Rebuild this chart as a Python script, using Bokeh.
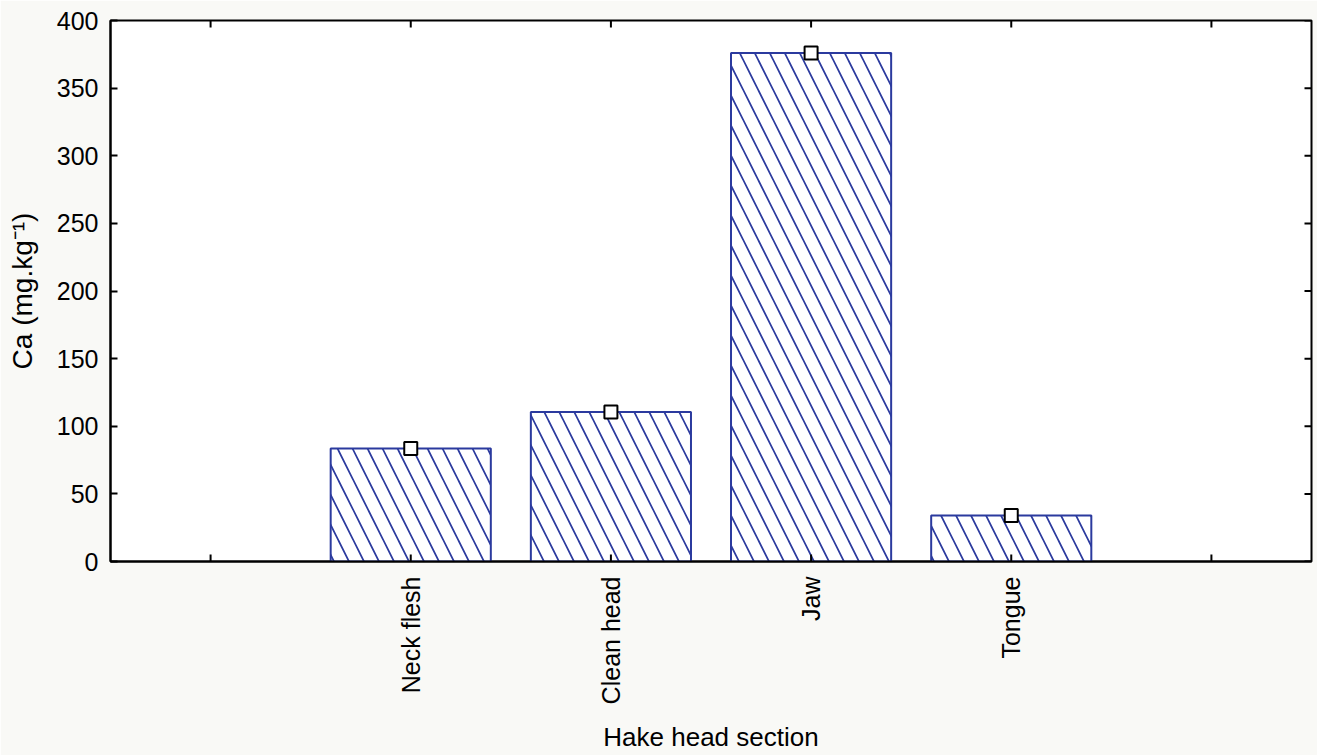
import math
from bokeh.plotting import figure
from bokeh.models import ColumnDataSource, FixedTicker, Range1d
from bokeh.embed import file_html
from bokeh.resources import INLINE

categories = ["Neck flesh", "Clean head", "Jaw", "Tongue"]
ca_means = [83.5, 110.5, 376.0, 34.0]
y_ticks = [0, 50, 100, 150, 200, 250, 300, 350, 400]

# category slots: one empty slot on each side
n_slots = len(categories) + 2
x_pos = [i + 1.5 for i in range(len(categories))]
x_ticks = [i + 0.5 for i in range(n_slots)]
y_min, y_max = y_ticks[0], y_ticks[-1]

src = ColumnDataSource(dict(x=x_pos, top=ca_means, name=categories))

p = figure(width=1317, height=755, output_backend="svg", toolbar_location=None,
           x_range=Range1d(0, n_slots), y_range=Range1d(y_min, y_max),
           min_border_left=110, min_border_right=6, min_border_top=20, min_border_bottom=194,
           background_fill_color="white", border_fill_color="#f9f9f6",
           outline_line_color="black", outline_line_width=2)
p.xgrid.visible = False
p.ygrid.visible = False

blue = "#2b3a9e"
p.vbar(x="x", top="top", bottom=0, width=0.8, source=src,
       fill_color="white", line_color=blue, line_width=2,
       hatch_pattern="\\", hatch_color=blue, hatch_scale=30, hatch_weight=1.7)
p.scatter(x="x", y="top", source=src, marker="square", size=13,
          fill_color="white", line_color="black", line_width=2)

# inward tick marks on all four sides of the frame
tick_len = 7
p.ray(x=x_ticks, y=[y_max] * len(x_ticks), length=tick_len, angle=-math.pi / 2,
      length_units="screen", line_color="black", line_width=2)
p.ray(x=x_ticks, y=[y_min] * len(x_ticks), length=tick_len, angle=math.pi / 2,
      length_units="screen", line_color="black", line_width=2)
p.ray(x=[n_slots] * len(y_ticks), y=y_ticks, length=tick_len, angle=math.pi,
      length_units="screen", line_color="black", line_width=2)

font = "Liberation Sans"

# bottom axis
xa = p.xaxis[0]
xa.ticker = FixedTicker(ticks=x_pos)
xa.major_label_overrides = {x: c for x, c in zip(x_pos, categories)}
xa.major_label_orientation = math.pi / 2
xa.major_label_text_font = font
xa.major_label_text_font_size = "25px"
xa.major_label_text_font_style = "normal"
xa.major_label_text_color = "black"
xa.major_label_standoff = 15
xa.axis_label = "Hake head section"
xa.axis_label_text_font = font
xa.axis_label_text_font_size = "26px"
xa.axis_label_text_font_style = "normal"
xa.axis_label_text_color = "black"
xa.axis_label_standoff = 15
xa.minor_tick_line_color = None
xa.major_tick_in = 0
xa.major_tick_out = 0
xa.axis_line_width = 2

# left axis
ya = p.yaxis[0]
ya.ticker = FixedTicker(ticks=y_ticks)
ya.major_label_text_font = font
ya.major_label_text_font_size = "25px"
ya.major_label_text_font_style = "normal"
ya.major_label_text_color = "black"
ya.major_label_standoff = 12
ya.axis_label = "Ca (mg.kg\u207b\u00b9)"
ya.axis_label_text_font = font
ya.axis_label_text_font_size = "28px"
ya.axis_label_text_font_style = "normal"
ya.axis_label_text_color = "black"
ya.axis_label_standoff = 16
ya.minor_tick_line_color = None
ya.major_tick_in = 7
ya.major_tick_out = 0
ya.axis_line_width = 2
ya.major_tick_line_width = 2

open("out.html", "w").write(file_html(p, INLINE))
